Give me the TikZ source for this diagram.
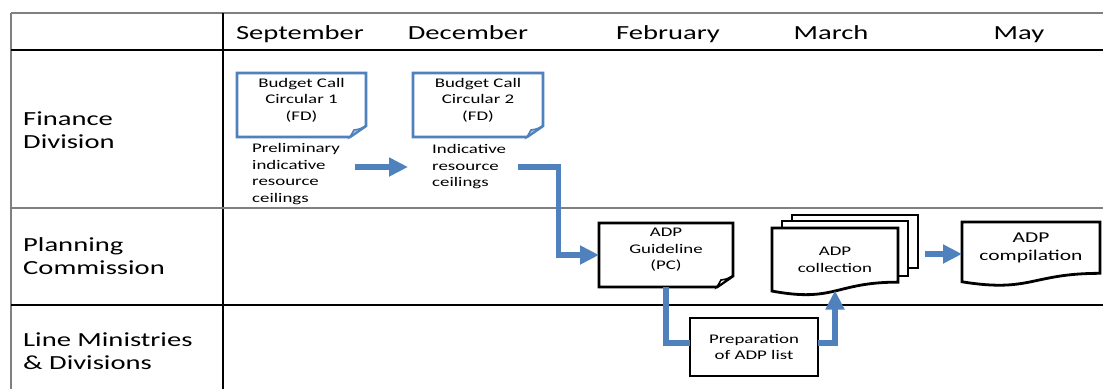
\documentclass[tikz,border=0pt]{standalone}
\usepackage{fontspec}
\setmainfont{Carlito}[FakeStretch=1.43]
\usetikzlibrary{arrows.meta,calc}

\definecolor{flowblue}{RGB}{79,129,189}
\definecolor{foldblue}{RGB}{170,192,222}
\definecolor{rulegray}{RGB}{128,128,128}

\tikzset{
  rulegrey/.style={draw=rulegray, line width=1.3pt},
  ruleblack/.style={draw=black, line width=1.2pt},
  lanelabel/.style={font=\fontsize{20}{23.3}\selectfont, align=left, anchor=west, inner sep=0pt},
  month/.style={font=\fontsize{20}{24}\selectfont, anchor=base, inner sep=0pt},
  boxtext/.style={font=\fontsize{13.2}{16.5}\selectfont, align=center, inner sep=0pt},
  bigboxtext/.style={font=\fontsize{15}{17.5}\selectfont, align=center, inner sep=0pt},
  notetext/.style={font=\fontsize{13.2}{16.5}\selectfont, align=left, anchor=west, inner sep=0pt},
  frame/.style={draw=none, inner sep=0pt, outer sep=0pt},
  bluebox/.style={draw=flowblue, line width=2.6pt, line join=miter, fill=white},
  blackbox/.style={draw=black, line width=2.8pt, line join=miter, fill=white},
  flow/.style={draw=flowblue, line width=5.5pt, line join=miter,
    -{Triangle[length=19pt,width=18pt]}},
  flowplain/.style={draw=flowblue, line width=5.5pt, line join=miter},
}

% folded-corner page drawn over the frame node #1 with style #2 and fold colour #3
% (the y axis points down, so a negative y offset moves up)
\newcommand\foldedpage[3]{%
  \draw[#2] (#1.north west) -- (#1.north east) -- ($(#1.south east)+(0,-11)$)
    -- ($(#1.south east)+(-16,0)$) -- (#1.south west) -- cycle;
  \filldraw[#2, fill=#3, line width=1.6pt]
    ($(#1.south east)+(-16,0)$) .. controls ($(#1.south east)+(-14,-4)$) ..
    ($(#1.south east)+(-12,-7)$) .. controls ($(#1.south east)+(-6,-8)$) ..
    ($(#1.south east)+(0,-11)$) -- cycle;
}
% document page with a wavy lower edge over the frame node #1
\newcommand\wavypage[1]{%
  \draw[blackbox] (#1.north west) -- (#1.north east)
    -- ($(#1.north east)!0.802!(#1.south east)$)
    .. controls ($(#1.north)!0.802!(#1.south)$) and ($(#1.north)!1.108!(#1.south)$) ..
    ($(#1.north west)!0.934!(#1.south west)$) -- cycle;
}

\begin{document}
\begin{tikzpicture}[x=1pt, y=-1pt]
  \useasboundingbox (0,0) rectangle (1103,389);
  \fill[white] (0,0) rectangle (1103,389);

  % table rules
  \draw[rulegrey] (11,13) -- (1103,13);
  \draw[rulegrey] (11,13) -- (11,389);
  \draw[ruleblack] (223,13) -- (223,389);
  \draw[ruleblack] (11,50) -- (1103,50);
  \draw[rulegrey] (11,208) -- (1103,208);
  \draw[ruleblack] (11,305) -- (1103,305);

  % column headings
  \node[month] (sep) at (300,39) {September};
  \node[month] (dec) at (468,39) {December};
  \node[month] (feb) at (668,39) {February};
  \node[month] (mar) at (831,39) {March};
  \node[month] (may) at (1019,39) {May};

  % lane headings
  \node[lanelabel] (fd) at (23,130) {Finance\\Division};
  \node[lanelabel] (pc) at (23,256) {Planning\\Commission};
  \node[lanelabel] (lm) at (23,351) {Line Ministries\\\& Divisions};

  % frames of the shapes
  \node[frame, minimum width=129pt, minimum height=64pt] (bcc1) at (301.5,105) {};
  \node[frame, minimum width=130pt, minimum height=64pt] (bcc2) at (478,105) {};
  \node[frame, minimum width=134pt, minimum height=64pt] (guide) at (666,255) {};
  \node[frame, minimum width=128pt, minimum height=58pt] (prep) at (754,347) {};
  \node[frame, minimum width=126pt, minimum height=67.5pt] (coll) at (835,261.75) {};
  \node[frame, minimum width=138pt, minimum height=64pt] (comp) at (1031,254) {};

  % budget call circulars
  \foldedpage{bcc1}{bluebox}{foldblue}
  \foldedpage{bcc2}{bluebox}{foldblue}
  \node[boxtext] (bcc1t) at (301.5,100) {Budget Call\\Circular 1\\(FD)};
  \node[boxtext] (bcc2t) at (478,100) {Budget Call\\Circular 2\\(FD)};
  \node[notetext] (note1) at (252,174) {Preliminary\\indicative\\resource\\ceilings};
  \node[notetext] (note2) at (432,167) {Indicative\\resource\\ceilings};

  % ADP guideline
  \foldedpage{guide}{blackbox}{white}
  \node[boxtext] (guidet) at (666,250) {ADP\\Guideline\\(PC)};

  % preparation of the list
  \draw[blackbox] (prep.north west) rectangle (prep.south east);
  \node[boxtext] (prept) at (754,347) {Preparation\\of ADP list};

  % stacked ADP collection
  \draw[blackbox] (792,215) rectangle (918,268);
  \draw[blackbox] (782,221) rectangle (908,276);
  \wavypage{coll}
  \node[boxtext] (collt) at (835,260) {ADP\\collection};

  % ADP compilation
  \wavypage{comp}
  \node[bigboxtext] (compt) at (1031,248) {ADP\\compilation};

  % flow connectors
  \draw[flow] ($(note1.east |- note2.west)+(15,0)$) -- ($(note2.west)+(-24,0)$);
  \draw[flow] ($(note2.east)+(12,0)$) -- ++(40,0) |- (guide.west);
  \draw[flowplain] (guide.south) |- ($(prep.west)+(0,-4)$);
  \draw[flow] ($(prep.east)+(0,-4)$) -| ($(coll.south)+(0,-5)$);
  \draw[flow] ($(comp.west)+(-37,0)$) -- (comp.west);
\end{tikzpicture}
\end{document}
